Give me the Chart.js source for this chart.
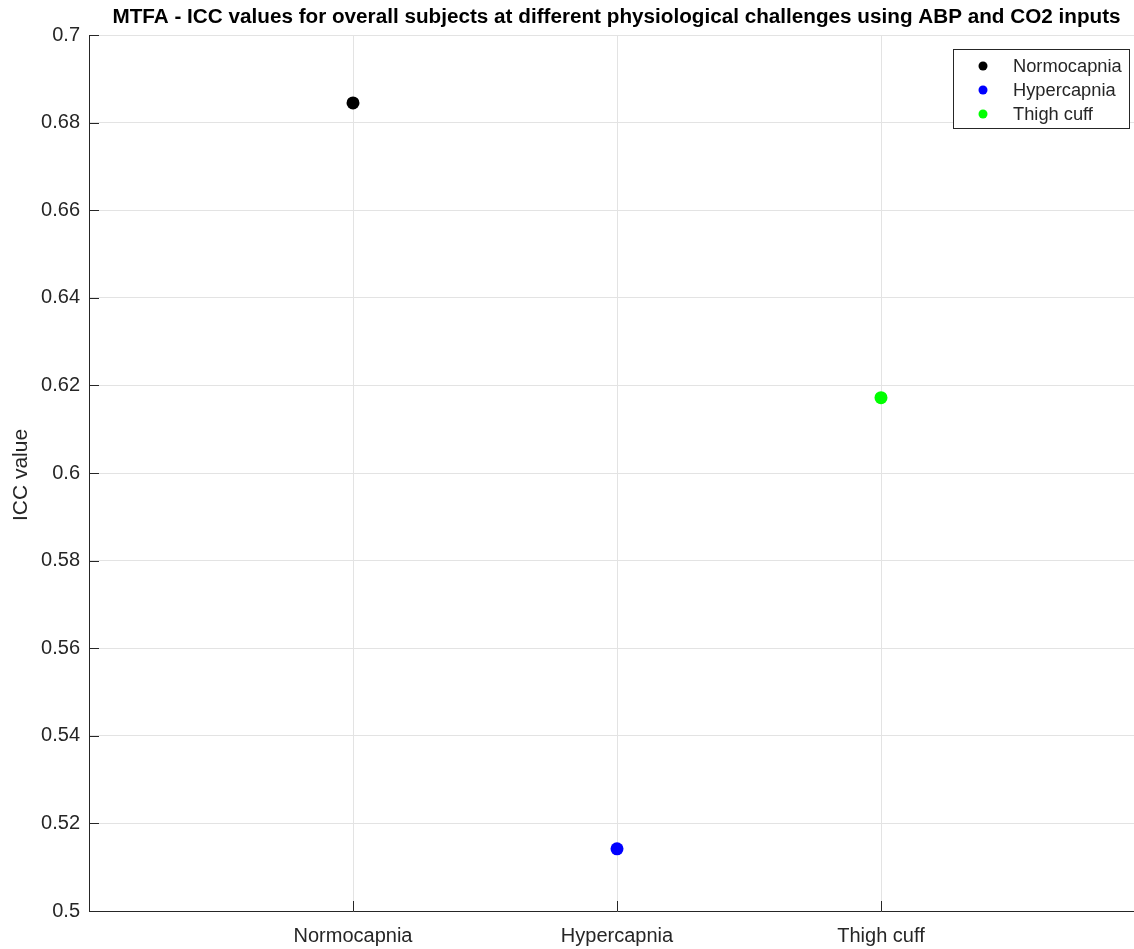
<!DOCTYPE html>
<html>
<head>
<meta charset="utf-8">
<script src="https://cdn.jsdelivr.net/npm/chart.js@4/dist/chart.umd.min.js"></script>
<style>
html,body{margin:0;padding:0;background:#fff;overflow:hidden;}
#wrap{position:absolute;left:0;top:0;width:1160px;height:949px;}
</style>
</head>
<body>
<div id="wrap"><canvas id="c" width="1160" height="949"></canvas></div>
<script>
const categories = ['Normocapnia', 'Hypercapnia', 'Thigh cuff'];
const iccValues = [0.6845, 0.5142, 0.6172];
const seriesColors = ['#000000', '#0000ff', '#00ff00'];
const yTicks = [0.5, 0.52, 0.54, 0.56, 0.58, 0.6, 0.62, 0.64, 0.66, 0.68, 0.7];
const titleText = 'MTFA - ICC values for overall subjects at different physiological challenges using ABP and CO2 inputs';
const yTitle = 'ICC value';

const FONT = '"Liberation Sans", Arial, Helvetica, sans-serif';
const AX = '#262626';

const datasets = categories.map((c, i) => ({
  label: c,
  data: [{x: i + 1, y: iccValues[i]}],
  backgroundColor: seriesColors[i],
  borderColor: seriesColors[i],
  pointRadius: 6.5,
  pointHoverRadius: 6.5,
  borderWidth: 0
}));

const deco = {
  id: 'deco',
  afterDraw(chart) {
    const ctx = chart.ctx, a = chart.chartArea;
    const xs = chart.scales.x, ys = chart.scales.y;
    ctx.save();
    // inward ticks
    ctx.strokeStyle = AX; ctx.lineWidth = 1;
    ctx.beginPath();
    yTicks.forEach(v => { const p = Math.round(ys.getPixelForValue(v)) + 0.5; ctx.moveTo(a.left, p); ctx.lineTo(a.left + 10, p); });
    categories.forEach((c, i) => { const p = Math.round(xs.getPixelForValue(i + 1)) + 0.5; ctx.moveTo(p, a.bottom); ctx.lineTo(p, a.bottom - 10); });
    ctx.stroke();
    // title
    ctx.fillStyle = '#000';
    ctx.font = 'bold 20.7px ' + FONT;
    ctx.textAlign = 'center'; ctx.textBaseline = 'middle';
    ctx.fillText(titleText, (a.left + a.right) / 2 - 0.5, 17);
    // y title
    ctx.save();
    ctx.translate(21, 475);
    ctx.rotate(-Math.PI / 2);
    ctx.fillStyle = AX;
    ctx.font = '21px ' + FONT;
    ctx.fillText(yTitle, 0, 0);
    ctx.restore();
    // legend
    const lx = 953.5, ly = 49.5, lw = 176, lh = 79;
    ctx.fillStyle = '#fff';
    ctx.fillRect(lx, ly, lw, lh);
    ctx.strokeStyle = AX; ctx.lineWidth = 1;
    ctx.strokeRect(lx, ly, lw, lh);
    ctx.font = '18.3px ' + FONT;
    ctx.textAlign = 'left';
    chart.data.datasets.forEach((d, i) => {
      const yy = 66 + i * 24;
      ctx.fillStyle = d.backgroundColor;
      ctx.beginPath(); ctx.arc(983, yy, 4.5, 0, Math.PI * 2); ctx.fill();
      ctx.fillStyle = AX;
      ctx.fillText(d.label, 1013, yy + 1);
    });
    ctx.restore();
  }
};

new Chart(document.getElementById('c'), {
  type: 'scatter',
  data: { datasets },
  options: {
    responsive: false,
    animation: false,
    events: [],
    layout: { padding: { top: 35, right: 15, bottom: 0, left: 0 } },
    plugins: { legend: { display: false }, title: { display: false }, tooltip: { enabled: false } },
    scales: {
      x: {
        type: 'linear', min: 0, max: 4,
        afterFit(s) { s.height = 38; },
        afterBuildTicks(s) { s.ticks = categories.map((c, i) => ({ value: i + 1 })); },
        ticks: {
          callback: (v) => categories[v - 1] || '',
          color: AX, font: { family: FONT, size: 20 }, padding: 13, maxRotation: 0, autoSkip: false
        },
        grid: { color: '#e3e3e3', drawTicks: false, lineWidth: 1 },
        border: { display: true, color: AX, width: 1 }
      },
      y: {
        type: 'linear', min: 0.5, max: 0.7,
        afterFit(s) { s.width = 89; },
        afterBuildTicks(s) { s.ticks = yTicks.map(v => ({ value: v })); },
        ticks: {
          callback: (v) => String(Math.round(v * 100) / 100),
          color: AX, font: { family: FONT, size: 20 }, padding: 9
        },
        grid: { color: '#e3e3e3', drawTicks: false, lineWidth: 1 },
        border: { display: true, color: AX, width: 1 }
      }
    }
  },
  plugins: [deco]
});
</script>
</body>
</html>
